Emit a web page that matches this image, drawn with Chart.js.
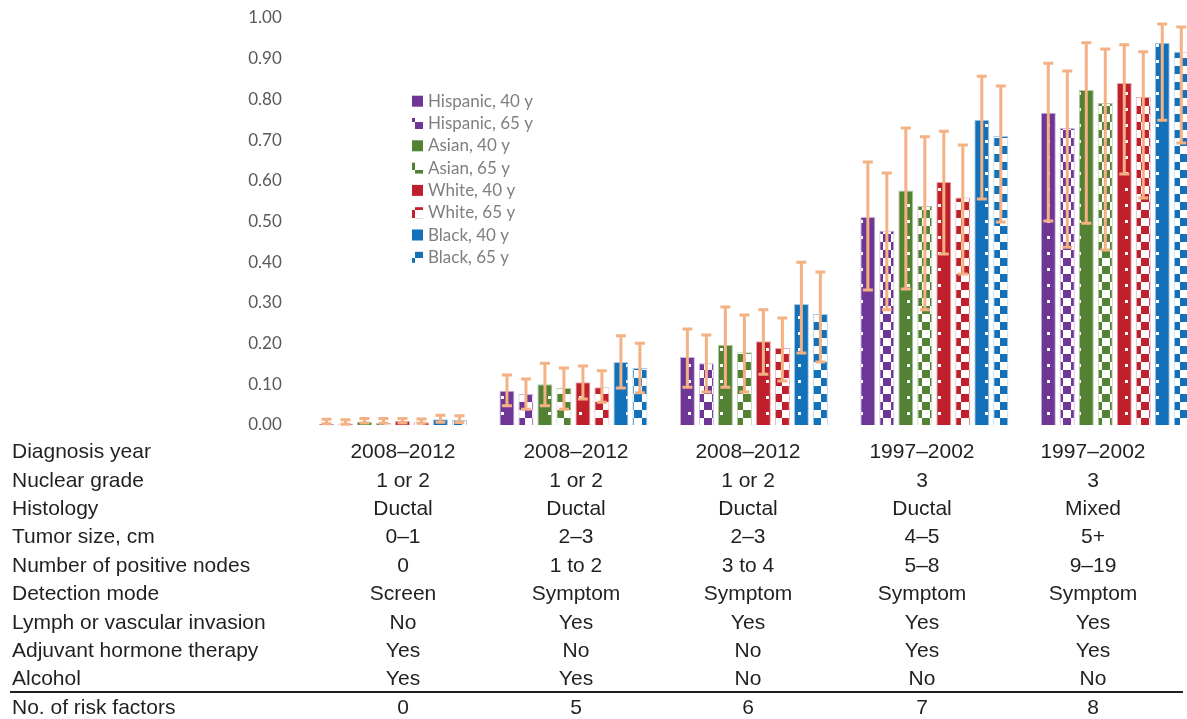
<!DOCTYPE html>
<html>
<head>
<meta charset="utf-8">
<script src="https://cdn.jsdelivr.net/npm/chart.js@4.4.1/dist/chart.umd.min.js"></script>
<style>
  html, body { margin: 0; padding: 0; background: #fff; overflow: hidden; width: 1187px; height: 719px; }
  #wrap { position: absolute; left: 0; top: 0; width: 1205px; height: 440px; }
  #table { position: absolute; left: 0; top: 0; width: 1187px; height: 719px;
           font-family: "Liberation Sans", Arial, sans-serif; font-size: 21px; color: #231f20; }
  .cell { position: absolute; white-space: nowrap; line-height: 21px; }
  .mid { transform: translateX(-50%); }
  .rule { position: absolute; left: 10px; width: 1173px; top: 691px; height: 2px; background: #231f20; }
</style>
</head>
<body>
<div id="wrap"><canvas id="c" width="1205" height="440"></canvas></div>
<div id="table"></div>
<script>
// Risk-factor profiles (one column per profile)
const riskFactors    = ['0', '5', '6', '7', '8'];
const diagnosisYear  = ['2008–2012', '2008–2012', '2008–2012', '1997–2002', '1997–2002'];
const nuclearGrade   = ['1 or 2', '1 or 2', '1 or 2', '3', '3'];
const histology      = ['Ductal', 'Ductal', 'Ductal', 'Ductal', 'Mixed'];
const tumorSize      = ['0–1', '2–3', '2–3', '4–5', '5+'];
const positiveNodes  = ['0', '1 to 2', '3 to 4', '5–8', '9–19'];
const detectionMode  = ['Screen', 'Symptom', 'Symptom', 'Symptom', 'Symptom'];
const lymphVascular  = ['No', 'Yes', 'Yes', 'Yes', 'Yes'];
const hormoneTherapy = ['Yes', 'No', 'No', 'Yes', 'Yes'];
const alcohol        = ['Yes', 'Yes', 'No', 'No', 'No'];

// Series labels
const seriesLabels = ['Hispanic, 40 y', 'Hispanic, 65 y', 'Asian, 40 y', 'Asian, 65 y',
                      'White, 40 y', 'White, 65 y', 'Black, 40 y', 'Black, 65 y'];

// Point estimates
const hispanic40 = [0.003, 0.084, 0.167, 0.511, 0.767];
const hispanic65 = [0.003, 0.076, 0.152, 0.477, 0.730];
const asian40    = [0.008, 0.100, 0.197, 0.576, 0.823];
const asian65    = [0.005, 0.091, 0.179, 0.538, 0.791];
const white40    = [0.010, 0.105, 0.206, 0.597, 0.840];
const white65    = [0.007, 0.093, 0.189, 0.559, 0.806];
const black40    = [0.014, 0.155, 0.297, 0.750, 0.939];
const black65    = [0.012, 0.140, 0.273, 0.710, 0.917];

// Lower confidence limits
const hispanic40Low = [0.003, 0.047, 0.093, 0.332, 0.501];
const hispanic65Low = [0.002, 0.039, 0.081, 0.283, 0.437];
const asian40Low    = [0.005, 0.047, 0.093, 0.334, 0.496];
const asian65Low    = [0.004, 0.039, 0.081, 0.283, 0.430];
const white40Low    = [0.005, 0.064, 0.125, 0.420, 0.617];
const white65Low    = [0.004, 0.056, 0.108, 0.371, 0.558];
const black40Low    = [0.007, 0.091, 0.177, 0.555, 0.749];
const black65Low    = [0.006, 0.079, 0.155, 0.499, 0.693];

// Upper confidence limits
const hispanic40High = [0.014, 0.123, 0.236, 0.646, 0.889];
const hispanic65High = [0.013, 0.113, 0.221, 0.619, 0.870];
const asian40High    = [0.016, 0.152, 0.290, 0.730, 0.939];
const asian65High    = [0.016, 0.140, 0.270, 0.708, 0.924];
const white40High    = [0.016, 0.145, 0.283, 0.722, 0.934];
const white65High    = [0.015, 0.133, 0.263, 0.688, 0.917];
const black40High    = [0.024, 0.219, 0.400, 0.857, 0.985];
const black65High    = [0.023, 0.201, 0.376, 0.833, 0.978];

const yTicks = [0, 0.1, 0.2, 0.3, 0.4, 0.5, 0.6, 0.7, 0.8, 0.9, 1.0];

// ---- styling ----
const baseColors = ['#6e3795', '#6e3795', '#548235', '#548235', '#c0202b', '#c0202b', '#1371b9', '#1371b9'];
const edgeColors = ['#c9b3dc', '#c9b3dc', '#b5cba5', '#b5cba5', '#e6a9ac', '#e6a9ac', '#a9cbe8', '#a9cbe8'];
const errColor = '#f4b183';

// Fill patterns: a sparse dot grid for age 40 and a checkerboard for age 65.
// Tile spans 5 repeats of a 15.6 px cell so the grid stays regular.
function makePattern(color, checker) {
  const t = document.createElement('canvas');
  t.width = 78; t.height = 16;
  const g = t.getContext('2d');
  if (checker) {
    g.fillStyle = '#ffffff';
    g.fillRect(0, 0, 78, 16);
    g.fillStyle = color;
    for (let k = 0; k < 5; k++) {
      const a0 = Math.round(2 + k * 15.6), a1 = Math.round(9.8 + k * 15.6);
      const b0 = a1, b1 = Math.round(17.6 + k * 15.6);
      g.fillRect(a0, 2, a1 - a0, 8);
      g.fillRect(b0, 10, b1 - b0, 6);
      g.fillRect(b0, 0, b1 - b0, 2);
      if (b1 > 78) { g.fillRect(b0 - 78, 10, b1 - b0, 6); g.fillRect(b0 - 78, 0, b1 - b0, 2); }
    }
  } else {
    g.fillStyle = color;
    g.fillRect(0, 0, 78, 16);
    g.fillStyle = '#ffffff';
    for (let k = 0; k < 5; k++) {
      g.fillRect(Math.round(2 + k * 15.6), 12, 3, 3);
    }
  }
  const ctx = document.getElementById('c').getContext('2d');
  return ctx.createPattern(t, 'repeat');
}

// ---- table under the bars ----
const tableRows = [
  ['Diagnosis year', diagnosisYear],
  ['Nuclear grade', nuclearGrade],
  ['Histology', histology],
  ['Tumor size, cm', tumorSize],
  ['Number of positive nodes', positiveNodes],
  ['Detection mode', detectionMode],
  ['Lymph or vascular invasion', lymphVascular],
  ['Adjuvant hormone therapy', hormoneTherapy],
  ['Alcohol', alcohol],
  ['No. of risk factors', riskFactors]
];
const colCenters = [403, 576, 748, 922, 1093];
const table = document.getElementById('table');
tableRows.forEach((row, i) => {
  const baseline = i < 9 ? 458 + i * 28.4 : 714;
  const top = baseline - 17.8;
  const lab = document.createElement('div');
  lab.className = 'cell';
  lab.style.left = '12px';
  lab.style.top = top + 'px';
  lab.textContent = row[0];
  table.appendChild(lab);
  row[1].forEach((v, j) => {
    const d = document.createElement('div');
    d.className = 'cell mid';
    d.style.left = colCenters[j] + 'px';
    d.style.top = top + 'px';
    d.textContent = v;
    table.appendChild(d);
  });
});
const rule = document.createElement('div');
rule.className = 'rule';
table.appendChild(rule);

// ---- chart ----
const values = [hispanic40, hispanic65, asian40, asian65, white40, white65, black40, black65];
const lows   = [hispanic40Low, hispanic65Low, asian40Low, asian65Low, white40Low, white65Low, black40Low, black65Low];
const highs  = [hispanic40High, hispanic65High, asian40High, asian65High, white40High, white65High, black40High, black65High];

const datasets = values.map((v, i) => ({
  label: seriesLabels[i],
  data: v,
  backgroundColor: makePattern(baseColors[i], i % 2 === 1),
  borderColor: edgeColors[i],
  borderWidth: 1,
  categoryPercentage: 0.842,
  barPercentage: 0.79
}));

const errorBars = {
  id: 'errorBars',
  afterDatasetsDraw(chart) {
    const ctx = chart.ctx;
    const y = chart.scales.y;
    ctx.save();
    ctx.strokeStyle = errColor;
    ctx.lineWidth = 3;
    ctx.lineCap = 'butt';
    chart.data.datasets.forEach((ds, i) => {
      const meta = chart.getDatasetMeta(i);
      meta.data.forEach((bar, j) => {
        const x = bar.x;
        const y1 = y.getPixelForValue(highs[i][j]);
        const y0 = y.getPixelForValue(lows[i][j]);
        ctx.beginPath();
        ctx.moveTo(x, y0); ctx.lineTo(x, y1);
        ctx.moveTo(x - 5, y1); ctx.lineTo(x + 5, y1);
        ctx.moveTo(x - 5, y0); ctx.lineTo(x + 5, y0);
        ctx.stroke();
      });
    });
    ctx.restore();
  }
};

const innerLegend = {
  id: 'innerLegend',
  afterDraw(chart) {
    const ctx = chart.ctx;
    ctx.save();
    ctx.font = '17px Lato, "Open Sans", sans-serif';
    ctx.textBaseline = 'alphabetic';
    chart.data.datasets.forEach((ds, i) => {
      const base = 106.7 + i * 22.3;
      ctx.fillStyle = ds.backgroundColor;
      ctx.fillRect(412, base - 11, 11, 11);
      ctx.fillStyle = '#7f7f7f';
      ctx.fillText(ds.label, 428, base);
    });
    ctx.restore();
  }
};

new Chart(document.getElementById('c'), {
  type: 'bar',
  data: { labels: riskFactors, datasets },
  options: {
    responsive: false,
    animation: false,
    layout: { padding: { top: 18, bottom: 15, left: 0, right: 0 } },
    plugins: { legend: { display: false }, tooltip: { enabled: false } },
    scales: {
      x: { display: false },
      y: {
        min: 0, max: 1,
        afterFit(scale) {
          scale.width = 302.75;
          scale.paddingTop = 0;
          scale.paddingBottom = 0;
        },
        afterBuildTicks(scale) { scale.ticks = yTicks.map(v => ({ value: v })); },
        grid: { display: false, drawTicks: false },
        border: { display: false },
        ticks: {
          padding: 21,
          color: '#595959',
          font: { family: 'Lato, "Open Sans", sans-serif', size: 17 },
          callback: v => Number(v).toFixed(2)
        }
      }
    }
  },
  plugins: [errorBars, innerLegend]
});
</script>
</body>
</html>
